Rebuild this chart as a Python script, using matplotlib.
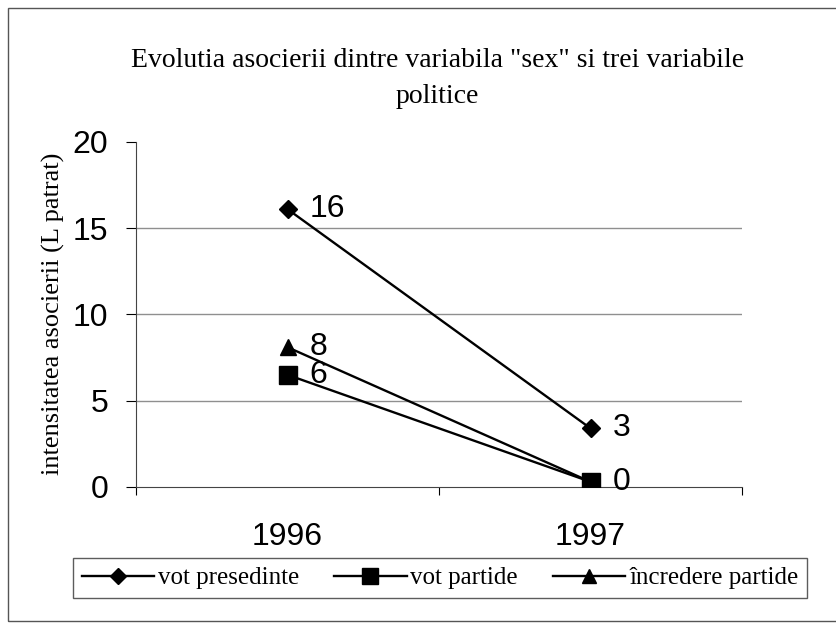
import matplotlib.pyplot as plt
from matplotlib.patches import Rectangle

# date
ani = ['1996', '1997']
serii = ['vot presedinte', 'vot partide', 'încredere partide']
vot_presedinte = [16.1, 3.4]
vot_partide = [6.5, 0.3]
incredere_partide = [8.1, 0.3]
etichete_presedinte = ['16', '3']
etichete_partide = ['6', '0']
etichete_incredere = ['8', '']
markere = ['D', 's', '^']
marimi = [9.5, 13, 12]

serif = ['Liberation Serif', 'DejaVu Serif']
sans = ['Liberation Sans', 'DejaVu Sans']

fig = plt.figure(figsize=(8.37, 6.23), dpi=100)
ax = fig.add_axes([0.1625, 0.2183, 0.724, 0.554])

valori = [vot_presedinte, vot_partide, incredere_partide]
etichete = [etichete_presedinte, etichete_partide, etichete_incredere]
x = list(range(len(ani)))
for nume, v, et, m, ms in zip(serii, valori, etichete, markere, marimi):
    ax.plot(x, v, color='black', lw=1.7, marker=m, ms=ms, label=nume, zorder=3)
    for xi, vi, t in zip(x, v, et):
        if t:
            ax.annotate(t, (xi, vi), xytext=(16, 0), textcoords='offset points',
                        va='center', ha='left', fontsize=23, family=sans)

ax.set_xlim(-0.5, 1.5)
ax.set_ylim(0, 20)
ax.set_yticks([0, 5, 10, 15, 20])
ax.set_xticks([-0.5, 0.5, 1.5])
ax.set_xticklabels([])
ax.set_xticks(x, minor=True)
ax.set_xticklabels(ani, minor=True, fontsize=23, family=sans)
ax.tick_params(axis='x', which='minor', length=0, pad=25)
ax.tick_params(axis='x', which='major', length=6, direction='out')
ax.tick_params(axis='y', length=7, pad=13, labelsize=23)
for lab in ax.get_yticklabels():
    lab.set_family(sans)

for g in [5, 10, 15]:
    ax.axhline(g, color='#8f8f8f', lw=1.0, zorder=1)

ax.spines['top'].set_visible(False)
ax.spines['right'].set_visible(False)
ax.spines['left'].set_color('#444444')
ax.spines['bottom'].set_color('#444444')

fig.text(0.064, 0.497, 'intensitatea asocierii (L patrat)', rotation=90,
         ha='center', va='center', family=serif, fontsize=19)

fig.text(0.523, 0.874, 'Evolutia asocierii dintre variabila "sex" si trei variabile\npolitice',
         ha='center', va='center', family=serif, fontsize=20, linespacing=1.55)

leg = fig.legend(loc='center', ncol=3, bbox_to_anchor=(0.5257, 0.072),
                 frameon=True, fancybox=False, edgecolor='#333333',
                 prop={'family': serif, 'size': 18}, handlelength=2.9,
                 handletextpad=0.15, columnspacing=1.4, borderpad=0.35,
                 markerscale=0.85)
leg.get_frame().set_linewidth(1.0)

fig.patches.append(Rectangle((0.0096, 0.004), 1.2, 0.983, transform=fig.transFigure,
                             fill=False, edgecolor='#555555', lw=1.0))

fig.savefig('out.png', dpi=100)
